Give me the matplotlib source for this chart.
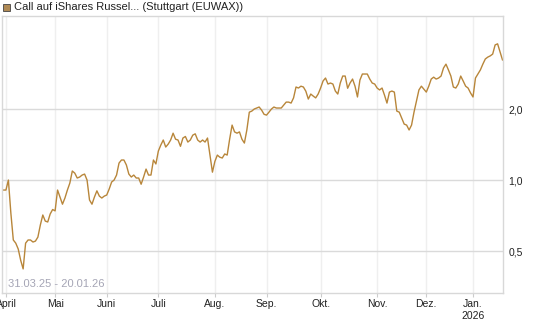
import matplotlib
matplotlib.use("Agg")
import matplotlib.pyplot as plt
from matplotlib.patches import Rectangle
import matplotlib.ticker as mticker
import numpy as np
import pandas as pd

plt.rcParams['font.family'] = ['Liberation Sans', 'DejaVu Sans']

# trading days at Stuttgart, 31.03.25 - 20.01.26
holidays = ['2025-04-18', '2025-04-21', '2025-05-01', '2025-12-24',
            '2025-12-25', '2025-12-26', '2025-12-31', '2026-01-01']

# closing prices (EUR), one per trading day, grouped by month
apr_vals = [0.907, 0.907, 1.0, 0.725, 0.557, 0.54, 0.51, 0.457, 0.42, 0.54,
            0.557, 0.557, 0.546, 0.551, 0.573, 0.645, 0.711, 0.670, 0.664, 0.718, 0.75]
may_vals = [0.74, 0.907, 0.847, 0.79, 0.839, 0.907, 0.971, 1.092, 1.07, 1.02,
            1.03, 1.05, 1.06, 1.0, 0.823, 0.79, 0.847, 0.90, 0.855, 0.839, 0.855]
jun_vals = [0.864, 0.916, 0.981, 1.0, 1.05, 1.18, 1.216, 1.216, 1.158, 1.06,
            1.03, 1.05, 1.02, 1.02, 0.96, 1.03, 1.113, 1.05, 1.05, 1.216, 1.17]
jul_vals = [1.327, 1.407, 1.478, 1.38, 1.42, 1.478, 1.58, 1.49, 1.478, 1.39,
            1.507, 1.53, 1.449, 1.478, 1.55, 1.57, 1.478, 1.449, 1.478, 1.449,
            1.507, 1.276, 1.08]
aug_vals = [1.20, 1.276, 1.25, 1.24, 1.29, 1.276, 1.49, 1.71, 1.60, 1.58,
            1.60, 1.49, 1.435, 1.63, 1.94, 1.96, 2.0, 2.02, 2.04, 1.98, 1.90]
sep_vals = [1.885, 1.94, 2.0, 2.04, 2.02, 2.02, 2.02, 2.08, 2.14, 2.14,
            2.12, 2.23, 2.48, 2.455, 2.50, 2.48, 2.38, 2.205, 2.315, 2.27,
            2.23, 2.315]
oct_vals = [2.455, 2.63, 2.707, 2.553, 2.578, 2.553, 2.384, 2.315, 2.578, 2.76,
            2.76, 2.45, 2.58, 2.68, 2.50, 2.25, 2.655, 2.815, 2.815, 2.815,
            2.68, 2.578, 2.553]
nov_vals = [2.455, 2.41, 2.455, 2.29, 2.12, 2.36, 2.384, 2.36, 1.96, 1.94,
            1.83, 1.727, 1.71, 1.63, 1.71, 1.94, 2.16, 2.41, 2.50, 2.43]
dec_vals = [2.36, 2.50, 2.68, 2.73, 2.68, 2.707, 2.76, 2.985, 3.10, 2.93,
            2.76, 2.48, 2.455, 2.553, 2.76, 2.63, 2.50, 2.455, 2.34]
jan_vals = [2.25, 2.707, 2.815, 2.93, 3.10, 3.26, 3.32, 3.36, 3.42, 3.74,
            3.78, 3.49, 3.23]

month_labels = ['April', 'Mai', 'Juni', 'Juli', 'Aug.', 'Sep.', 'Okt.',
                'Nov.', 'Dez.', 'Jan.\n2026']
y_ticks = [0.5, 1.0, 2.0]

title = 'Call auf iShares Russel... (Stuttgart (EUWAX))'
range_text = '31.03.25 - 20.01.26'

days = pd.bdate_range('2025-03-31', '2026-01-20')
days = days[~days.isin(pd.to_datetime(holidays))]
values = np.array(apr_vals + may_vals + jun_vals + jul_vals + aug_vals +
                  sep_vals + oct_vals + nov_vals + dec_vals + jan_vals)
assert len(values) == len(days)
pos = np.arange(len(days))

# first trading day of each month (the lone March day is skipped)
months = days.to_period('M')
first_idx = [i for i in range(1, len(days)) if months[i] != months[i - 1]]

W, H = 545, 327
fig = plt.figure(figsize=(W / 100, H / 100), dpi=100)
ax = fig.add_axes([2 / W, 1 - 293 / H, 501 / W, 277 / H])

ax.plot(pos, values, color='#b8863a', lw=1.0)

ax.set_yscale('log')
ax.set_ylim(0.332, 4.96)
ax.set_xlim(-0.6, 203.2)

ax.yaxis.set_major_locator(mticker.FixedLocator(y_ticks))
ax.yaxis.set_minor_locator(mticker.NullLocator())
ax.yaxis.set_major_formatter(mticker.FixedFormatter(['0,5', '1,0', '2,0']))
ax.yaxis.tick_right()
ax.tick_params(axis='y', length=0, pad=4, labelsize=7.5, colors='#222222')
ax.grid(axis='y', color='#dadada', lw=1)

ax.set_xticks(first_idx)
ax.set_xticklabels(month_labels, linespacing=1.25)
ax.tick_params(axis='x', length=3, width=0.8, color='#cccccc', pad=1,
               labelsize=7.5, labelcolor='#222222')
ax.grid(axis='x', color='#efefef', lw=1)
ax.set_axisbelow(True)

for s in ax.spines.values():
    s.set_color('#d8d8d8')
    s.set_linewidth(1)

ax.text(6 / 501, 0.015, range_text, transform=ax.transAxes, fontsize=8,
        color='#a5a5b5', ha='left', va='bottom')

fig.patches.append(Rectangle((3 / W, 1 - 11 / H), 7 / W, 7 / H,
                             transform=fig.transFigure, facecolor='#b08a55',
                             edgecolor='#444444', lw=0.6))
fig.text(14 / W, 1 - 7.5 / H, title, fontsize=8, color='#222222',
         ha='left', va='center')

fig.savefig('out.png', dpi=100)
